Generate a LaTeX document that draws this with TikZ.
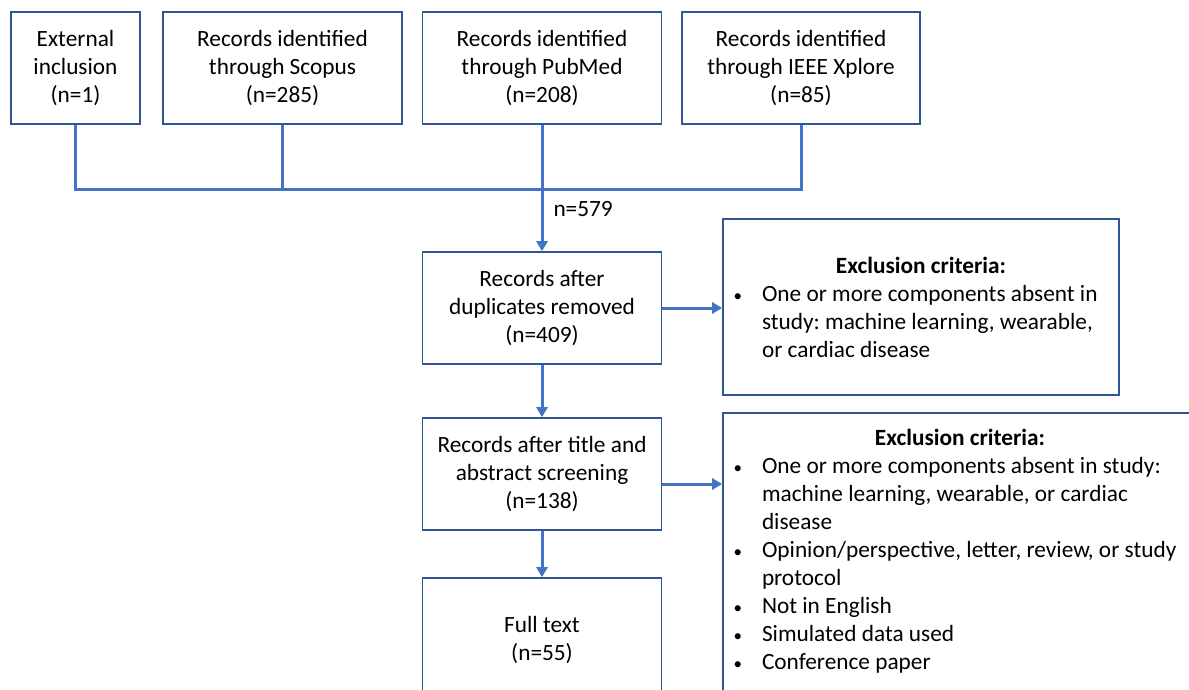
\documentclass[tikz,border=0pt]{standalone}
\usepackage{fontspec}
\setmainfont{Carlito}
\frenchspacing
\definecolor{boxblue}{RGB}{47,85,151}
\definecolor{lineblue}{RGB}{68,114,196}
\usetikzlibrary{arrows.meta, calc, positioning}

\newcommand{\crithead}[1]{\makebox[#1][c]{\bfseries Exclusion criteria:}}
\newcommand{\critbul}{\makebox[29pt][l]{\hspace{0.5pt}\fontsize{17}{17}\selectfont\textbullet}}
\newcommand{\critind}{\hspace*{29pt}}

\begin{document}
\begin{tikzpicture}[
  x=1pt, y=-1pt,
  font=\fontsize{23.3}{28}\selectfont,
  blk/.style={
    draw=boxblue, line width=1.6pt,
    align=center, inner sep=0pt,
    minimum width=239pt, minimum height=112pt
  },
  crit/.style={
    draw=boxblue, line width=1.6pt,
    align=left, inner sep=0pt
  },
  conn/.style={
    draw=lineblue, line width=3pt
  },
  arr/.style={
    conn, -{Triangle[length=10pt, width=11pt]}
  },
  nlbl/.style={
    anchor=west, inner sep=0pt, xshift=10pt
  }
]
\clip (0,0) rectangle (1189,690);

%% ── Fuentes de registros ─────────────────────────────────────────────────
\node[blk, minimum width=129pt] (ext) at (75.5,68)
  {External\\inclusion\\(n=1)};
\node[blk] (scopus) at (282.5,68)
  {Records identified\\through Scopus\\(n=285)};
\node[blk] (pubmed) at (542,68)
  {Records identified\\through PubMed\\(n=208)};
\node[blk, minimum width=238pt] (ieee) at (801,68)
  {Records identified\\through IEEE Xplore\\(n=85)};

%% ── Cribado ──────────────────────────────────────────────────────────────
\node[blk] (dup) at (542,308)
  {Records after\\duplicates removed\\(n=409)};
\node[blk] (screen) at (542,474)
  {Records after title and\\abstract screening\\(n=138)};
\node[blk, minimum height=124pt] (full) at (542,640)
  {Full text\\(n=55)};

%% ── Criterios de exclusión ───────────────────────────────────────────────
\node[crit, minimum width=396pt, minimum height=176pt] (excla) at (921,307)
  {\crithead{376pt}\\
   \critbul One or more components absent in\\
   \critind study: machine learning, wearable,\\
   \critind or cardiac disease};

\node[crit, minimum width=474pt, minimum height=300pt] (exclb) at (960,563)
  {\crithead{454pt}\\
   \critbul One or more components absent in study:\\
   \critind machine learning, wearable, or cardiac\\
   \critind disease\\
   \critbul Opinion/perspective, letter, review, or study\\
   \critind protocol\\
   \critbul Not in English\\
   \critbul Simulated data used\\
   \critbul Conference paper\\
   \mbox{}};

%% ── Conectores ───────────────────────────────────────────────────────────
\coordinate (bus) at (542,189);
\draw[conn] (ext.south) -- (ext.south |- bus) -- (ieee.south |- bus) -- (ieee.south);
\draw[conn] (scopus.south) -- (scopus.south |- bus);
\draw[arr] (pubmed.south) -- node[nlbl, pos=0.67] {n=579} (dup.north);

\draw[arr] (dup.south) -- (screen.north);
\draw[arr] (screen.south) -- (full.north);

%% flechas laterales hacia los criterios
\draw[arr] (dup.east) -- (dup.east -| excla.west);
\draw[arr] ([yshift=-10pt]screen.east) -- ([yshift=-10pt]screen.east -| exclb.west);

\end{tikzpicture}
\end{document}
